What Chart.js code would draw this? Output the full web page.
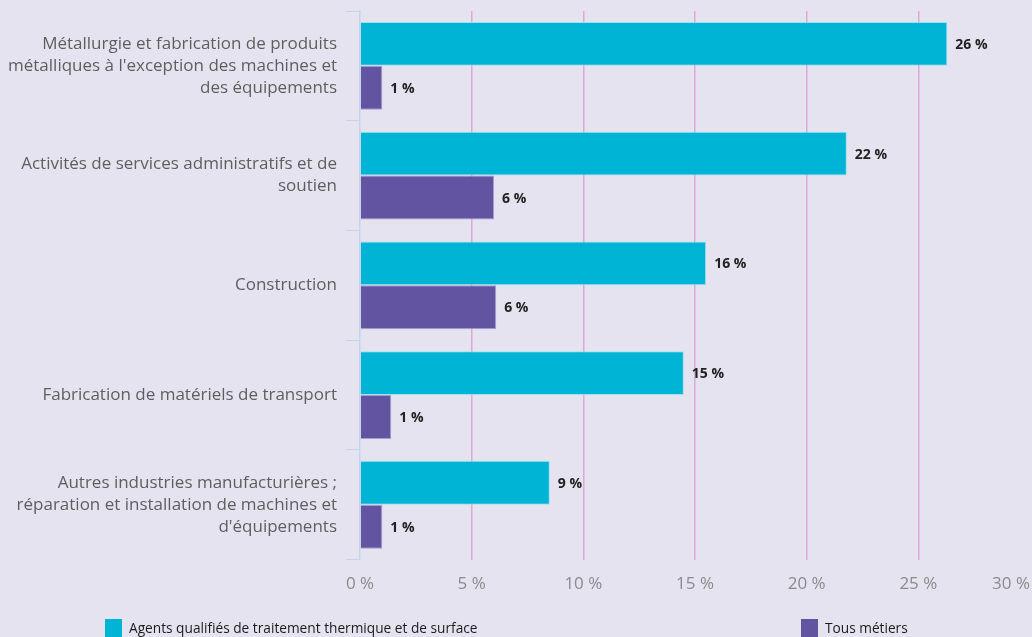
<!DOCTYPE html>
<html lang="fr">
<head>
<meta charset="utf-8">
<title>Secteurs d'emploi</title>
<script src="https://cdn.jsdelivr.net/npm/chart.js@4.4.1/dist/chart.umd.min.js"></script>
<style>
  html, body { margin: 0; padding: 0; background: #e6e3f0; }
  #wrap { width: 1032px; height: 637px; position: relative; }
</style>
</head>
<body>
<div id="wrap"><canvas id="chart" width="1032" height="637"></canvas></div>
<script>
// Sectors (multi-line labels)
const sectors = [
  ['Métallurgie et fabrication de produits', "métalliques à l'exception des machines et", 'des équipements'],
  ['Activités de services administratifs et de', 'soutien'],
  'Construction',
  'Fabrication de matériels de transport',
  ['Autres industries manufacturières ;', 'réparation et installation de machines et', "d'équipements"]
];
// Share of employment by sector, in %
const agentsShare  = [26.3, 21.8, 15.5, 14.5, 8.5];
const allJobsShare = [1.0, 6.0, 6.1, 1.4, 1.0];
const seriesNames  = ['Agents qualifiés de traitement thermique et de surface', 'Tous métiers'];
const xTickValues  = [0, 5, 10, 15, 20, 25, 30];

const CYAN = '#00b4d6';
const PURPLE = '#6354a2';
const FONT = '"Open Sans", "DejaVu Sans", sans-serif';

// Value labels at the end of each bar
const barValueLabels = {
  id: 'barValueLabels',
  afterDatasetsDraw(chart) {
    const ctx = chart.ctx;
    ctx.save();
    ctx.font = 'bold 14px ' + FONT;
    ctx.fillStyle = '#222';
    ctx.textAlign = 'left';
    ctx.textBaseline = 'middle';
    chart.data.datasets.forEach((ds, i) => {
      chart.getDatasetMeta(i).data.forEach((bar, j) => {
        ctx.fillText(Math.round(ds.data[j]) + ' %', bar.x + 8, bar.y + 1);
      });
    });
    ctx.restore();
  }
};

// Keep the last x label inside the canvas (right-aligned on its tick)
const lastTickInside = {
  id: 'lastTickInside',
  beforeDraw(chart) {
    const items = chart.scales.x.getLabelItems();
    const last = items[items.length - 1];
    if (last) last.options.textAlign = 'right';
  }
};

// Legend row under the chart
const bottomLegend = {
  id: 'bottomLegend',
  afterDraw(chart, args, opts) {
    const ctx = chart.ctx;
    ctx.save();
    ctx.font = '13.7px ' + FONT;
    ctx.textBaseline = 'middle';
    ctx.textAlign = 'left';
    chart.data.datasets.forEach((ds, i) => {
      const x = opts.positions[i];
      ctx.fillStyle = ds.backgroundColor;
      ctx.fillRect(x, opts.y - 9, 17, 19);
      ctx.fillStyle = '#1a1a1a';
      ctx.fillText(ds.label, x + 24, opts.y + 1);
    });
    ctx.restore();
  }
};

new Chart(document.getElementById('chart'), {
  type: 'bar',
  data: {
    labels: sectors,
    datasets: [
      { label: seriesNames[0], data: agentsShare, backgroundColor: CYAN,
        borderColor: 'rgba(140,225,240,0.8)', borderWidth: 1, borderSkipped: 'start' },
      { label: seriesNames[1], data: allJobsShare, backgroundColor: PURPLE,
        borderColor: 'rgba(150,140,200,0.8)', borderWidth: 1, borderSkipped: 'start' }
    ]
  },
  options: {
    indexAxis: 'y',
    responsive: false,
    animation: false,
    layout: { padding: { top: 11, right: 2, bottom: 29, left: 0 } },
    datasets: { bar: { categoryPercentage: 0.8, barPercentage: 1.0 } },
    scales: {
      x: {
        min: 0, max: 30,
        afterBuildTicks(scale) { scale.ticks = xTickValues.map(v => ({ value: v })); },
        afterFit(scale) { scale.paddingRight = 0; scale.paddingLeft = 0; },
        grid: {
          drawTicks: false,
          color: ctx => (ctx.tick && (ctx.tick.value === 30 || ctx.tick.value === 0)) ? 'rgba(0,0,0,0)' : '#dcaad8',
          lineWidth: 1.5
        },
        border: { display: false },
        ticks: {
          padding: 14,
          color: '#8a8a8a',
          font: { family: FONT, size: 17 },
          callback: v => v + ' %'
        }
      },
      y: {
        afterFit(scale) { scale.width = 360; scale.paddingTop = 0; scale.paddingBottom = 0; },
        grid: {
          drawOnChartArea: false,
          offset: true,
          tickLength: 14,
          color: '#c4d4ec'
        },
        border: { display: true, color: '#c4d4ec', width: 1.5 },
        ticks: {
          padding: 9,
          color: '#5e5e5e',
          font: { family: FONT, size: 17, lineHeight: 22 / 17 }
        }
      }
    },
    plugins: {
      legend: { display: false },
      tooltip: { enabled: false },
      bottomLegend: { positions: [105, 801], y: 628 }
    }
  },
  plugins: [barValueLabels, lastTickInside, bottomLegend]
});
</script>
</body>
</html>
